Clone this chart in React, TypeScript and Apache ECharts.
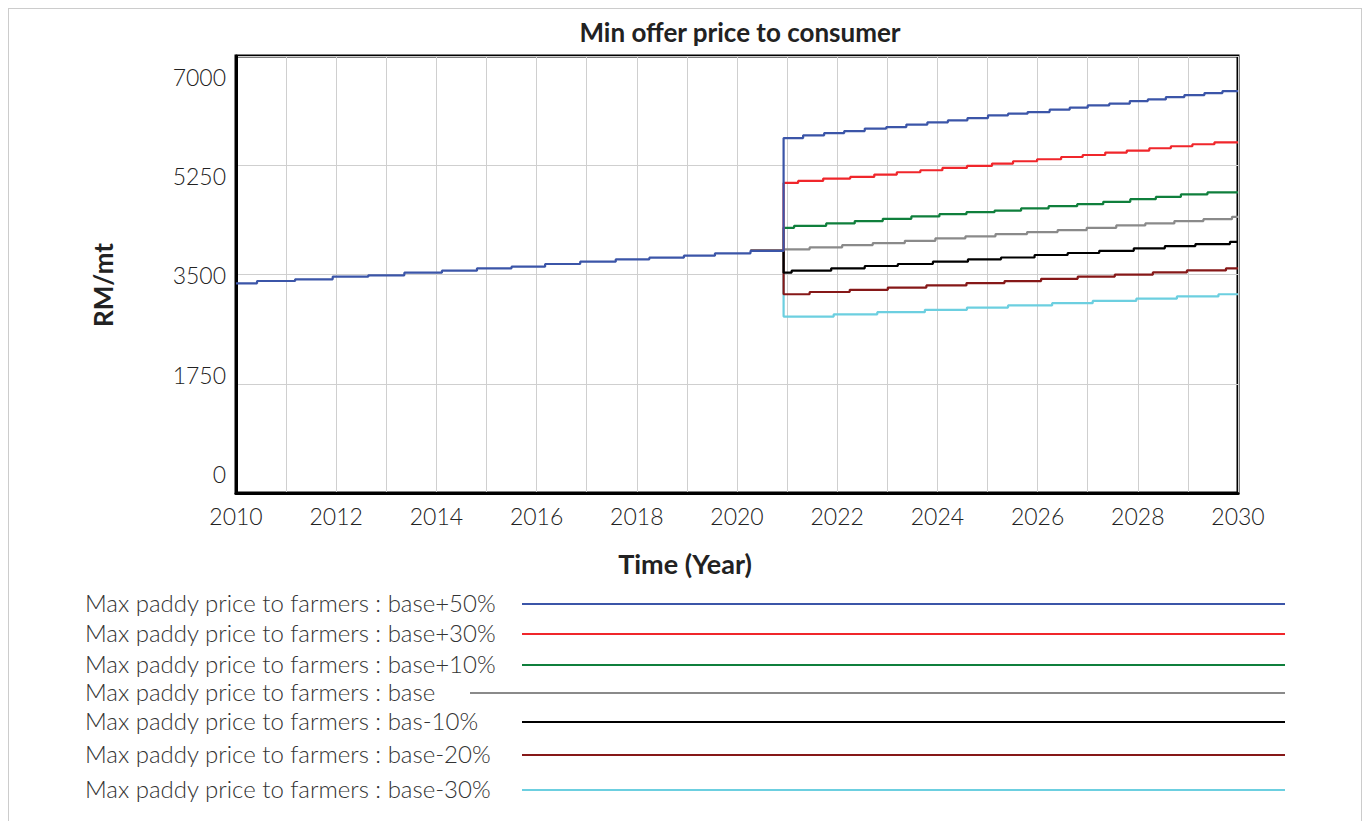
import React, { useEffect, useRef } from "react";
import * as echarts from "echarts";

const TITLE = "Min offer price to consumer";
const X_NAME = "Time (Year)";
const Y_NAME = "RM/mt";
const Y_TICKS = [0, 1750, 3500, 5250, 7000];

// Shared history (all scenarios identical before the policy change)
const preYears = [2010.42, 2011.18, 2011.93, 2012.64, 2013.36, 2014.11, 2014.81, 2015.5, 2016.17, 2016.87, 2017.58, 2018.25, 2018.94, 2019.56, 2020.27];
const preLevels = [3359, 3396, 3423, 3465, 3487, 3529, 3561, 3599, 3625, 3668, 3705, 3743, 3769, 3801, 3839, 3880];
const JUMP_YEAR = 2020.93;

const names = [
  "Max paddy price to farmers : base+50%",
  "Max paddy price to farmers : base+30%",
  "Max paddy price to farmers : base+10%",
  "Max paddy price to farmers : base",
  "Max paddy price to farmers : bas-10%",
  "Max paddy price to farmers : base-20%",
  "Max paddy price to farmers : base-30%",
];
const colors = ["#3b55a8", "#f0262b", "#0f7f3c", "#8a8a8a", "#000000", "#861818", "#6ccfe0"];

const p50Years = [2021.32, 2021.74, 2022.14, 2022.55, 2022.98, 2023.38, 2023.8, 2024.21, 2024.6, 2025.01, 2025.41, 2025.8, 2026.24, 2026.64, 2027.0, 2027.43, 2027.84, 2028.2, 2028.56, 2028.93, 2029.33, 2029.69];
const p50Levels = [5686, 5730, 5766, 5798, 5837, 5862, 5901, 5937, 5969, 6006, 6049, 6076, 6102, 6140, 6172, 6209, 6236, 6278, 6305, 6342, 6374, 6406, 6438];

const p30Years = [2021.22, 2021.72, 2022.26, 2022.74, 2023.19, 2023.66, 2024.1, 2024.59, 2025.09, 2025.51, 2025.99, 2026.47, 2026.9, 2027.35, 2027.78, 2028.23, 2028.66, 2029.09, 2029.53];
const p30Levels = [4967, 4999, 5037, 5063, 5101, 5138, 5170, 5207, 5239, 5277, 5314, 5346, 5382, 5414, 5453, 5485, 5522, 5554, 5586, 5618];

const p10Years = [2021.14, 2021.78, 2022.35, 2022.91, 2023.48, 2024.04, 2024.58, 2025.14, 2025.67, 2026.22, 2026.79, 2027.31, 2027.85, 2028.36, 2028.86, 2029.39];
const p10Levels = [4248, 4280, 4318, 4355, 4392, 4430, 4467, 4499, 4523, 4558, 4595, 4627, 4664, 4707, 4743, 4782, 4814];

const baseYears = [2021.45, 2022.1, 2022.71, 2023.35, 2023.96, 2024.56, 2025.16, 2025.79, 2026.4, 2026.98, 2027.57, 2028.15, 2028.73, 2029.31, 2029.88];
const baseLevels = [3903, 3935, 3972, 4004, 4040, 4079, 4111, 4147, 4179, 4211, 4248, 4286, 4318, 4355, 4387, 4424];

const m10Years = [2021.09, 2021.88, 2022.55, 2023.21, 2023.91, 2024.61, 2025.27, 2025.94, 2026.6, 2027.23, 2027.92, 2028.54, 2029.15, 2029.84];
const m10Levels = [3529, 3561, 3599, 3636, 3668, 3705, 3743, 3772, 3812, 3844, 3880, 3919, 3956, 3987, 4024];

const m20Years = [2021.45, 2022.25, 2023.01, 2023.78, 2024.58, 2025.34, 2026.07, 2026.8, 2027.54, 2028.3, 2028.98, 2029.76];
const m20Levels = [3184, 3220, 3255, 3290, 3325, 3362, 3395, 3430, 3465, 3497, 3533, 3566, 3599];

const m30Years = [2021.93, 2022.8, 2023.75, 2024.59, 2025.41, 2026.29, 2027.1, 2027.97, 2028.78, 2029.61];
const m30Levels = [2826, 2862, 2897, 2934, 2970, 3005, 3041, 3076, 3113, 3148, 3184];

const scenarioYears = [p50Years, p30Years, p10Years, baseYears, m10Years, m20Years, m30Years];
const scenarioLevels = [p50Levels, p30Levels, p10Levels, baseLevels, m10Levels, m20Levels, m30Levels];

const legendLineStart = [522, 522, 522, 470, 522, 522, 522];
const legendRowY = [604, 634, 665, 693, 722, 755, 790];

// The shared history is drawn once (by the first series, which sits on top in
// the original); the other scenarios start at the last shared level.
function buildSeriesData(years: number[], levels: number[], withHistory: boolean) {
  const pts: number[][] = [];
  if (withHistory) {
    pts.push([2010, preLevels[0]]);
    preYears.forEach((y, i) => pts.push([y, preLevels[i + 1]]));
  } else {
    pts.push([preYears[preYears.length - 1], preLevels[preLevels.length - 1]]);
  }
  pts.push([JUMP_YEAR, levels[0]]);
  years.forEach((y, i) => pts.push([y, levels[i + 1]]));
  pts.push([2030, levels[levels.length - 1]]);
  return pts;
}

const FONT = "Lato, 'Open Sans', sans-serif";

export default function App() {
  const ref = useRef<HTMLDivElement>(null);
  useEffect(() => {
    if (!ref.current) return;
    const chart = echarts.init(ref.current, undefined, { renderer: "svg" });
    const series: any[] = names.map((n, i) => ({
      name: n,
      type: "line",
      step: "end",
      showSymbol: false,
      symbol: "none",
      z: 10 - i,
      lineStyle: { color: colors[i], width: 2.2 },
      data: buildSeriesData(scenarioYears[i], scenarioLevels[i], i === 0),
    }));

    const legendGraphics: any[] = [];
    names.forEach((n, i) => {
      legendGraphics.push({
        type: "text",
        x: 85,
        y: legendRowY[i] - 2,
        style: { text: n, font: `300 24px ${FONT}`, fill: "#333", textVerticalAlign: "middle" },
      });
      legendGraphics.push({
        type: "line",
        shape: { x1: legendLineStart[i], y1: legendRowY[i], x2: 1285, y2: legendRowY[i] },
        style: { stroke: colors[i], lineWidth: 2 },
      });
    });
    legendGraphics.push({
      type: "text",
      x: 685,
      y: 563,
      style: { text: X_NAME, font: `bold 27px ${FONT}`, fill: "#222", textAlign: "center", textVerticalAlign: "middle" },
    });
    legendGraphics.push({
      type: "text",
      x: 103,
      y: 285,
      rotation: Math.PI / 2,
      style: { text: Y_NAME, font: `bold 26px ${FONT}`, fill: "#222", textAlign: "center", textVerticalAlign: "middle" },
    });

    chart.setOption({
      animation: false,
      backgroundColor: "transparent",
      title: {
        text: TITLE,
        left: 735,
        top: 14,
        textAlign: "center",
        textStyle: { fontFamily: FONT, fontWeight: "bold", fontSize: 26, color: "#222" },
      },
      grid: {
        left: 236,
        right: 134,
        top: 56,
        bottom: 328,
        show: true,
        borderColor: "#000",
        borderWidth: 3,
        containLabel: false,
      },
      xAxis: {
        type: "value",
        min: 2010,
        max: 2030,
        interval: 1,
        axisLine: { show: true, lineStyle: { color: "#000", width: 3 } },
        axisTick: { show: false },
        splitLine: { show: true, lineStyle: { color: "#cfcfcf", width: 1 } },
        axisLabel: {
          margin: 11,
          fontFamily: FONT,
          fontWeight: 300,
          fontSize: 23,
          color: "#222",
          formatter: (v: number) => (Math.round(v) % 2 === 0 ? String(Math.round(v)) : ""),
        },
      },
      yAxis: [
        {
          type: "value",
          min: 0,
          max: 7000,
          interval: 1750,
          axisLine: { show: true, lineStyle: { color: "#000", width: 3 } },
          axisTick: { show: false },
          axisLabel: { show: false },
          splitLine: { show: true, lineStyle: { color: "#cfcfcf", width: 1 } },
        },
        {
          type: "value",
          position: "left",
          min: -335,
          max: 7370,
          axisLine: { show: false },
          axisTick: { show: false },
          splitLine: { show: false },
          axisLabel: {
            customValues: Y_TICKS,
            margin: 10,
            fontFamily: FONT,
            fontWeight: 300,
            fontSize: 23,
            color: "#222",
            formatter: (v: number) => String(Math.round(v)),
          },
        },
      ],
      series,
      graphic: legendGraphics,
    });
    return () => chart.dispose();
  }, []);

  return (
    <>
      <div
        style={{
          position: "fixed",
          left: 8,
          top: 8,
          width: 1354,
          height: 840,
          border: "1px solid #cccccc",
          boxSizing: "border-box",
          background: "#fff",
        }}
      />
      <div ref={ref} style={{ position: "fixed", left: 0, top: 0, width: 1372, height: 821 }} />
    </>
  );
}
